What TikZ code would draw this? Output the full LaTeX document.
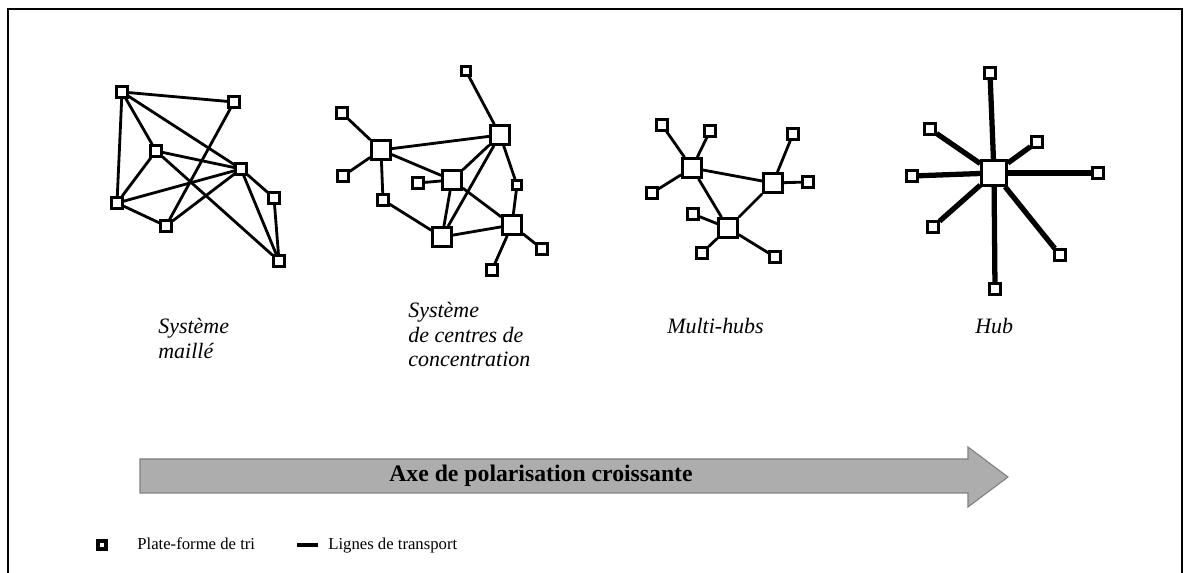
\documentclass[tikz,border=0pt]{standalone}
\usepackage{fontspec}
\setmainfont{Liberation Serif}
\usepackage{tikz}

\begin{document}
\begin{tikzpicture}[x=0.02cm, y=-0.02cm,
    site/.style = {rectangle, draw=black, fill=white, line width=1.5pt, minimum size=0.21cm, inner sep=0pt},
    centre/.style = {site, minimum size=0.38cm},
    bighub/.style = {site, minimum size=0.5cm},
    link/.style = {draw=black, line width=1.6pt},
    spoke/.style = {draw=black, line width=3pt},
    caption/.style = {font=\fontsize{12.5}{14}\selectfont\itshape, align=left, anchor=north west, inner sep=0pt},
    legend/.style = {font=\fontsize{9.5}{11}\selectfont, anchor=base west, inner sep=0pt}
]
\useasboundingbox (0,0) rectangle (1187,573);

% Frame (open at the bottom)
\draw [line width=1.6pt] (8,573) -- (8,9) -- (1182,9) -- (1182,573);

% Meshed system
\node (m_a) [site, at={(122,92)}] {};
\node (m_b) [site, at={(234,102)}] {};
\node (m_c) [site, at={(156,151)}] {};
\node (m_d) [site, at={(241,169)}] {};
\node (m_e) [site, at={(117,203)}] {};
\node (m_f) [site, at={(166,226)}] {};
\node (m_g) [site, at={(274,198)}] {};
\node (m_h) [site, at={(279,261)}] {};

\draw [link] (m_a) -- (m_b);
\draw [link] (m_a) -- (m_e);
\draw [link] (m_a) -- (m_c);
\draw [link] (m_a) -- (m_d);
\draw [link] (m_b) -- (m_f);
\draw [link] (m_c) -- (m_d);
\draw [link] (m_c) -- (m_e);
\draw [link] (m_c) -- (m_h);
\draw [link] (m_e) -- (m_d);
\draw [link] (m_e) -- (m_f);
\draw [link] (m_f) -- (m_d);
\draw [link] (m_d) -- (m_g);
\draw [link] (m_d) -- (m_h);
\draw [link] (m_g) -- (m_h);

% Concentration centres
\node (c_p1) [site, minimum size=0.17cm, at={(466,71)}] {};
\node (c_hub_ne) [centre, at={(500,135)}] {};
\node (c_p3) [site, at={(342,113)}] {};
\node (c_hub_w) [centre, at={(381,150)}] {};
\node (c_p5) [site, at={(343,176)}] {};
\node (c_hub_mid) [centre, at={(452,180)}] {};
\node (c_p7) [site, at={(418,183)}] {};
\node (c_p8) [site, minimum size=0.17cm, at={(517,185)}] {};
\node (c_p9) [site, at={(383,200)}] {};
\node (c_hub_se) [centre, at={(512,225)}] {};
\node (c_hub_s) [centre, at={(442,237)}] {};
\node (c_p12) [site, at={(542,249)}] {};
\node (c_p13) [site, at={(492,270)}] {};

\draw [link] (c_p1) -- (c_hub_ne);
\draw [link] (c_p3) -- (c_hub_w);
\draw [link] (c_p5) -- (c_hub_w);
\draw [link] (c_hub_w) -- (c_hub_ne);
\draw [link] (c_hub_w) -- (c_hub_mid);
\draw [link] (c_hub_w) -- (c_p9);
\draw [link] (c_p9) -- (c_hub_s);
\draw [link] (c_p7) -- (c_hub_mid);
\draw [link] (c_hub_mid) -- (c_hub_ne);
\draw [link] (c_hub_mid) -- (c_hub_s);
\draw [link] (c_hub_mid) -- (c_hub_se);
\draw [link] (c_hub_ne) -- (c_hub_s);
\draw [link] (c_hub_ne) -- (c_p8);
\draw [link] (c_p8) -- (c_hub_se);
\draw [link] (c_hub_s) -- (c_hub_se);
\draw [link] (c_hub_se) -- (c_p12);
\draw [link] (c_hub_se) -- (c_p13);

% Multi-hubs
\node (h_q1) [site, at={(662,125)}] {};
\node (h_q2) [site, at={(710,131)}] {};
\node (h_hub_w) [centre, at={(692,168)}] {};
\node (h_q4) [site, at={(793,134)}] {};
\node (h_hub_e) [centre, at={(773,183)}] {};
\node (h_q6) [site, at={(808,182)}] {};
\node (h_q7) [site, at={(652,193)}] {};
\node (h_q8) [site, at={(693,214)}] {};
\node (h_hub_s) [centre, at={(728,228)}] {};
\node (h_q10) [site, at={(702,253)}] {};
\node (h_q11) [site, at={(775,257)}] {};

\draw [link] (h_q1) -- (h_hub_w);
\draw [link] (h_q2) -- (h_hub_w);
\draw [link] (h_q7) -- (h_hub_w);
\draw [link] (h_hub_w) -- (h_hub_e);
\draw [link] (h_hub_w) -- (h_hub_s);
\draw [link] (h_q4) -- (h_hub_e);
\draw [link] (h_hub_e) -- (h_q6);
\draw [link] (h_hub_e) -- (h_hub_s);
\draw [link] (h_q8) -- (h_hub_s);
\draw [link] (h_q10) -- (h_hub_s);
\draw [link] (h_q11) -- (h_hub_s);

% Single hub
\node (s_hub) [bighub, at={(994,173)}] {};
\node (s_n) [site, at={(990,73)}] {};
\node (s_nw) [site, at={(930,129)}] {};
\node (s_ne) [site, at={(1037,142)}] {};
\node (s_w) [site, at={(912,176)}] {};
\node (s_e) [site, at={(1098,173)}] {};
\node (s_sw) [site, at={(933,227)}] {};
\node (s_se) [site, at={(1060,255)}] {};
\node (s_s) [site, at={(995,289)}] {};

\draw [spoke] (s_hub) -- (s_n);
\draw [spoke] (s_hub) -- (s_nw);
\draw [spoke] (s_hub) -- (s_ne);
\draw [spoke] (s_hub) -- (s_w);
\draw [spoke] (s_hub) -- (s_e);
\draw [spoke] (s_hub) -- (s_sw);
\draw [spoke] (s_hub) -- (s_se);
\draw [spoke] (s_hub) -- (s_s);

% Captions
\node (lbl_mesh) [caption, at={(158,318)}] {Système\\maillé};
\node (lbl_conc) [caption, at={(408,302)}] {Système\\de centres de\\concentration};
\node (lbl_multi) [caption, at={(667,318)}] {Multi-hubs};
\node (lbl_hub) [caption, at={(975,318)}] {Hub};

% Polarisation axis
\filldraw [fill=black!32, draw=black!50, line width=0.6pt]
    (140,459) -- (968,459) -- (968,447) -- (1008,477) -- (968,507) -- (968,493) -- (140,493) -- cycle;
\node (axe) [font=\bfseries\fontsize{13.5}{15}\selectfont, at={(541,476)}] {Axe de polarisation croissante};

% Legend
\node (key_site) [site, minimum size=0.16cm, line width=1.8pt, at={(102,545)}] {};
\node (key_site_txt) [legend, at={(137,550)}] {Plate-forme de tri};
\coordinate (key_line_a) at (297,545);
\coordinate (key_line_b) at (318,545);
\draw [spoke, line width=2.2pt] (key_line_a) -- (key_line_b);
\node (key_line_txt) [legend, at={(328,550)}] {Lignes de transport};

\end{tikzpicture}
\end{document}
